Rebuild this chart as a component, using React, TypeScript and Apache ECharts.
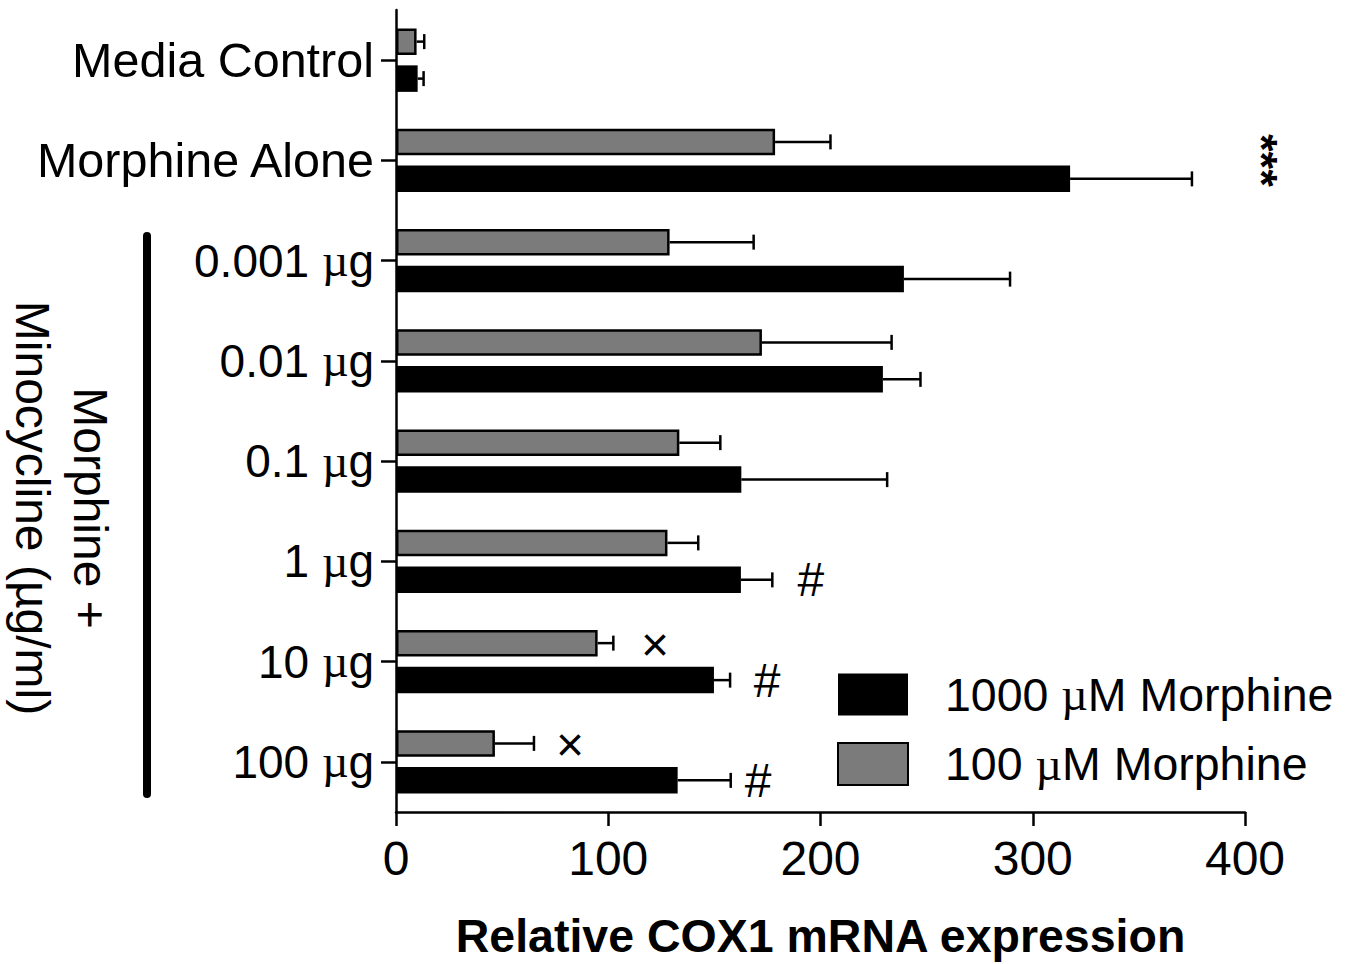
import React, { useEffect, useRef } from "react";
import * as echarts from "echarts";

const categories = ["Media Control", "Morphine Alone", "0.001 µg", "0.01 µg", "0.1 µg", "1 µg", "10 µg", "100 µg"];
const morphine100 = [9.7, 178.6, 128.9, 172.4, 133.5, 127.9, 95.0, 46.6];
const morphine100Err = [13.3, 204.7, 168.5, 233.5, 152.8, 142.4, 102.4, 65.0];
const morphine1000 = [10.2, 317.6, 239.3, 229.4, 162.7, 162.5, 149.8, 132.7];
const morphine1000Err = [13.0, 375.0, 289.3, 247.1, 231.4, 177.3, 157.4, 157.7];

const annoCategories = ["Morphine Alone", "1 µg", "10 µg", "10 µg", "100 µg", "100 µg"];
const annoSeries = ["group", "1000", "100", "1000", "100", "1000"];
const annoText = ["***", "#", "×", "#", "×", "#"];
const annoX = [408, 195.5, 122, 174.8, 82, 170.6];

const xTicks = [0, 100, 200, 300, 400];

const NAME_1000 = "1000 µM Morphine";
const NAME_100 = "100 µM Morphine";
const FONT = "Liberation Sans";
const FS = 46;
const BAR_W = 26.5;
const BAR_GAP = 0.396;
const OFFSET = (BAR_W + BAR_W * BAR_GAP) / 2;

const muRich = {
  mu: { fontFamily: "Liberation Serif", fontSize: FS, color: "#000" },
  big: { fontFamily: FONT, fontSize: 48.5, color: "#000" },
};
const muFmt = (s: string) => s.replace("µ", "{mu|µ}");
const catFmt = (s: string) => (s.includes("µ") ? muFmt(s) : `{big|${s}}`);

export default function App() {
  const ref = useRef<HTMLDivElement>(null);
  useEffect(() => {
    document.body.style.margin = "0";
    const chart = echarts.init(ref.current!, null, { renderer: "svg" });
    const errRender = (sign: number) => (params: any, api: any) => {
      const cat = api.value(1);
      const y = api.coord([0, cat])[1] + sign * OFFSET;
      const x1 = api.coord([api.value(0), cat])[0];
      const x2 = api.coord([api.value(2), cat])[0];
      return {
        type: "group",
        children: [
          { type: "line", shape: { x1, y1: y, x2, y2: y }, style: { stroke: "#000", lineWidth: 2.5 } },
          { type: "line", shape: { x1: x2, y1: y - 7.5, x2: x2, y2: y + 7.5 }, style: { stroke: "#000", lineWidth: 2.5 } },
        ],
      };
    };
    const option: any = {
      animation: false,
      backgroundColor: "#fff",
      grid: { left: 396, right: 107, top: 10, bottom: 151, containLabel: false },
      legend: {
        orient: "vertical",
        left: 837,
        top: 671,
        padding: 0,
        data: [NAME_1000, NAME_100],
        icon: "rect",
        itemWidth: 70,
        itemHeight: 42,
        itemGap: 22.5,
        selectedMode: false,
        formatter: muFmt,
        textStyle: { fontFamily: FONT, fontSize: 46.5, color: "#000", padding: [0, 0, 0, 32], rich: muRich },
      },
      xAxis: {
        type: "value",
        min: 0,
        max: 400,
        interval: 100,
        name: "Relative COX1 mRNA expression",
        nameLocation: "middle",
        nameGap: 100,
        nameTextStyle: { fontFamily: FONT, fontSize: 46.5, fontWeight: "bold", color: "#000" },
        axisLine: { show: true, lineStyle: { color: "#000", width: 2.5 } },
        axisTick: { show: true, length: 14, lineStyle: { color: "#000", width: 2.5 } },
        axisLabel: {
          fontFamily: FONT,
          fontSize: 48,
          color: "#000",
          margin: 22,
          formatter: (v: number) => (xTicks.includes(v) ? String(v) : ""),
        },
        splitLine: { show: false },
      },
      yAxis: {
        type: "category",
        inverse: true,
        data: categories,
        axisLine: { show: true, lineStyle: { color: "#000", width: 2.5 } },
        axisTick: { show: true, alignWithLabel: true, length: 15, lineStyle: { color: "#000", width: 2.5 } },
        axisLabel: { fontFamily: FONT, fontSize: FS, color: "#000", margin: 22, formatter: catFmt, rich: muRich },
      },
      graphic: [
        {
          type: "line",
          shape: { x1: 147, y1: 236, x2: 147, y2: 794 },
          style: { stroke: "#000", lineWidth: 8, lineCap: "round" },
        },
        {
          type: "text",
          x: 61,
          y: 508,
          rotation: -Math.PI / 2,
          style: {
            text: "Morphine +\nMinocycline (µg/ml)",
            fontFamily: FONT,
            fontSize: 48,
            lineHeight: 58,
            fill: "#000",
            align: "center",
            verticalAlign: "middle",
          },
        },
      ],
      series: [
        {
          name: NAME_100,
          type: "bar",
          data: morphine100,
          barWidth: BAR_W,
          barGap: BAR_GAP * 100 + "%",
          itemStyle: { color: "#7b7b7b", borderColor: "#000", borderWidth: 2.5 },
        },
        {
          name: NAME_1000,
          type: "bar",
          data: morphine1000,
          barWidth: BAR_W,
          barGap: BAR_GAP * 100 + "%",
          itemStyle: { color: "#000", borderColor: "#000", borderWidth: 0 },
        },
        {
          type: "custom",
          name: "err100",
          renderItem: errRender(-1),
          encode: { x: [0, 2], y: 1 },
          data: categories.map((c, i) => [morphine100[i], c, morphine100Err[i]]),
          z: 1,
        },
        {
          type: "custom",
          name: "err1000",
          renderItem: errRender(1),
          encode: { x: [0, 2], y: 1 },
          data: categories.map((c, i) => [morphine1000[i], c, morphine1000Err[i]]),
          z: 1,
        },
        {
          type: "custom",
          name: "annotations",
          clip: false,
          encode: { x: 0, y: 1 },
          data: annoCategories.map((c, i) => [annoX[i], c]),
          renderItem: (params: any, api: any) => {
            const i = params.dataIndex;
            const s = annoSeries[i];
            const sign = s === "1000" ? 1 : s === "100" ? -1 : 0;
            const p = api.coord([api.value(0), api.value(1)]);
            const isStars = annoText[i] === "***";
            const isX = annoText[i] === "×";
            return {
              type: "text",
              x: p[0],
              y: p[1] + sign * OFFSET + (isX ? 1 : 0),
              rotation: isStars ? -Math.PI / 2 : 0,
              style: {
                text: annoText[i],
                fontFamily: FONT,
                fontSize: isStars ? 45 : isX ? 48 : 48,
                fontWeight: isStars ? "bold" : "normal",
                fill: "#000",
                align: "center",
                verticalAlign: "middle",
              },
            };
          },
        },
      ],
    };
    chart.setOption(option);
    return () => chart.dispose();
  }, []);
  return <div ref={ref} style={{ width: 1352, height: 964 }} />;
}
